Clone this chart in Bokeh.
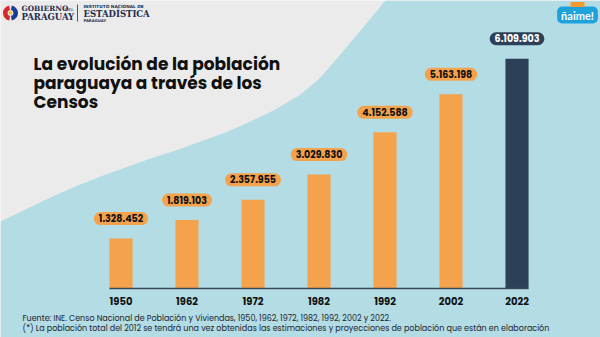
from bokeh.plotting import figure
from bokeh.models import Range1d, ColumnDataSource
from bokeh.core.properties import value
from bokeh.embed import file_html
from bokeh.resources import INLINE

# ---------------- data ----------------
years = ["1950", "1962", "1972", "1982", "1992", "2002", "2022"]
population = [1328452, 1819103, 2357955, 3029830, 4152588, 5163198, 6109903]
value_labels = ["1.328.452", "1.819.103", "2.357.955", "3.029.830",
                "4.152.588", "5.163.198", "6.109.903"]
title_lines = ["La evolución de la población",
               "paraguaya a través de los",
               "Censos"]
source_note = ("Fuente: INE. Censo Nacional de Población y Viviendas, "
               "1950, 1962, 1972, 1982, 1992, 2002 y 2022.")
foot_note = ("(*) La población total del 2012 se tendrá una vez obtenidas las "
             "estimaciones y proyecciones de población que están en elaboración")

# ---------------- styling ----------------
W, H = 600, 337
BG = "#ebebeb"
BLUE = "#b3dce4"
ORANGE = "#f4a24b"
NAVY = "#2c4058"
INK = "#111111"
FONT = value("Poppins, Inter")

idx = list(range(len(years)))
bar_colors = [ORANGE] * (len(years) - 1) + [NAVY]
label_text_colors = [INK] * (len(years) - 1) + ["#ffffff"]

# ranges chosen so the canvas is the whole picture
X0, X1 = -1.826, 7.265
Y0, Y1 = -1.3032e6, 7.6596e6


def dx(xp):
    return X0 + xp / W * (X1 - X0)


def dy(yp):
    return Y1 - yp / H * (Y1 - Y0)


p = figure(width=W, height=H, x_range=Range1d(X0, X1), y_range=Range1d(Y0, Y1),
           output_backend="svg", toolbar_location=None, min_border=0,
           x_axis_location=None, y_axis_location=None)
p.grid.visible = False
p.outline_line_color = None
p.background_fill_color = BG
p.border_fill_color = BG

# decorative blue wave
curve = [(0, 221), (25, 209), (50, 197), (75, 186), (100, 176), (125, 167),
         (150, 158), (175, 150), (200, 141), (225, 132), (250, 121), (275, 109),
         (300, 94), (320, 77), (340, 54), (360, 30), (375, 12), (385, 0),
         (600, 0), (600, 337), (0, 337)]
p.patch([dx(a) for a, b in curve], [dy(b) for a, b in curve],
        fill_color=BLUE, line_color=None)

# bars
src = ColumnDataSource(dict(x=idx, year=years, pop=population, lab=value_labels,
                            col=bar_colors, tcol=label_text_colors))
bw = 0.35
p.vbar(x="x", top="pop", width=bw, bottom=0, fill_color="col", line_color=None,
       source=src)

# baseline
p.segment(x0=[idx[0] - bw / 2], y0=[0], x1=[idx[-1] + bw / 2], y1=[0],
          line_color="#3b4b5c", line_width=1.5)

# year labels
p.text(x="x", y=0, text="year", source=src, y_offset=13,
       text_align="center", text_baseline="middle", text_font=FONT,
       text_font_style="bold", text_font_size="10px", text_color=INK)

# value pills
p.text(x="x", y="pop", text="lab", source=src, y_offset=-20,
       text_align="center", text_baseline="middle", text_font=FONT,
       text_font_style="bold", text_font_size="9.5px", text_color="tcol",
       background_fill_color="col", border_radius=7, padding=[5, 3])

# title
for i, line in enumerate(title_lines):
    p.text(x=[dx(33)], y=[dy(63 + i * 19)], text=[line], text_align="left",
           text_baseline="middle", text_font=FONT, text_font_style="bold",
           text_font_size="17px", text_color=INK)

# notes
p.text(x=[dx(22)], y=[dy(318)], text=[source_note], text_align="left",
       text_baseline="middle", text_font=FONT, text_font_size="8px",
       text_color="#1c2530")
p.text(x=[dx(22)], y=[dy(328)], text=[foot_note], text_align="left",
       text_baseline="middle", text_font=FONT, text_font_size="8px",
       text_color="#1c2530")

# ---- top-left logos ----
LOGO = "#1f2d4d"
ex, ey = dx(10), dy(12.5)
p.annular_wedge(x=[ex], y=[ey], inner_radius=3, outer_radius=7.5,
                inner_radius_units="screen", outer_radius_units="screen",
                start_angle=1.75, end_angle=4.55, fill_color="#d8262e", line_color=None)
p.annular_wedge(x=[ex], y=[ey], inner_radius=3, outer_radius=7.5,
                inner_radius_units="screen", outer_radius_units="screen",
                start_angle=-1.4, end_angle=1.4, fill_color="#1b3f94", line_color=None)
p.scatter(x=[ex], y=[ey], marker="star", size=6, fill_color="#f2c22b", line_color=None)

p.text(x=[dx(21)], y=[dy(8)], text=["GOBIERNO"], text_baseline="middle",
       text_font=value("DejaVu Serif"), text_font_style="bold",
       text_font_size="7.3px", text_color=LOGO)
p.text(x=[dx(64)], y=[dy(8.5)], text=["DEL"], text_baseline="middle",
       text_font=value("DejaVu Serif"), text_font_size="4.3px", text_color=LOGO)
p.text(x=[dx(21)], y=[dy(16)], text=["PARAGUAY"], text_baseline="middle",
       text_font=value("DejaVu Serif"), text_font_style="bold",
       text_font_size="8.5px", text_color=LOGO)
p.segment(x0=[dx(77)], y0=[dy(4)], x1=[dx(77)], y1=[dy(21)],
          line_color=LOGO, line_width=0.8)
p.text(x=[dx(83)], y=[dy(5.5)], text=["INSTITUTO NACIONAL DE"], text_baseline="middle",
       text_font=value("DejaVu Sans"), text_font_style="bold",
       text_font_size="4.3px", text_color=LOGO)
p.text(x=[dx(83)], y=[dy(13)], text=["ESTADÍSTICA"], text_baseline="middle",
       text_font=value("DejaVu Serif"), text_font_style="bold",
       text_font_size="8.5px", text_color=LOGO)
p.text(x=[dx(83)], y=[dy(19.5)], text=["PARAGUAY"], text_baseline="middle",
       text_font=value("DejaVu Sans"), text_font_style="bold",
       text_font_size="3.8px", text_color=LOGO)

# ---- top-right campaign logo ----
p.text(x=[dx(577)], y=[dy(14.5)], text=["ñaime!"], text_align="center",
       text_baseline="middle", text_font=value("Lato"), text_font_style="bold",
       text_font_size="11px", text_color="#ffffff",
       background_fill_color="#1ea2dc", border_radius=5, padding=[4, 2])
p.rect(x=[dx(577)], y=[dy(4)], width=14, height=5, width_units="screen",
       height_units="screen", fill_color="#f49a2c", line_color=None)

open("out.html", "w").write(file_html(p, INLINE))
